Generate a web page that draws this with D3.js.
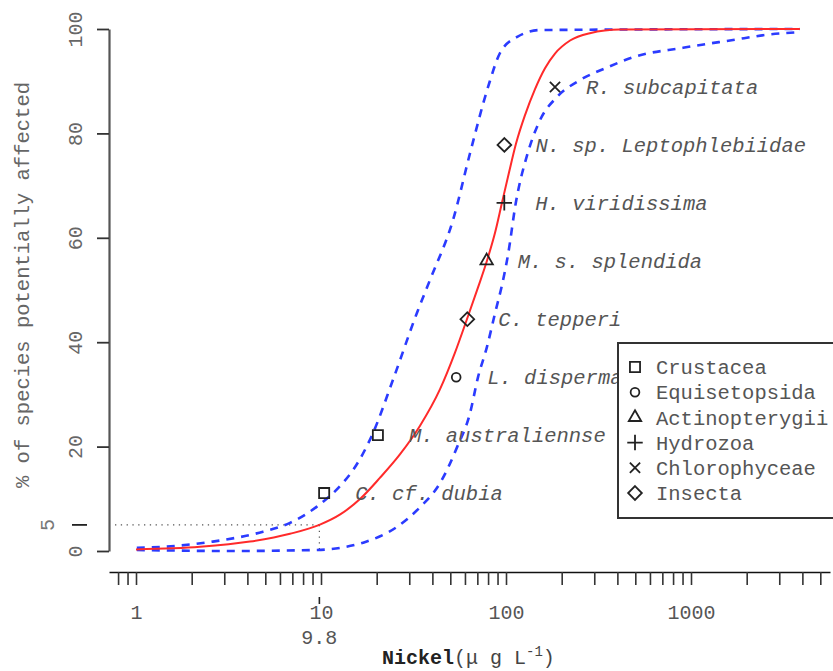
<!DOCTYPE html>
<html>
<head>
<meta charset="utf-8">
<script src="https://cdn.jsdelivr.net/npm/d3@7"></script>
<style>
  body { margin: 0; background: #fff; }
  svg { font-family: "Liberation Mono", "DejaVu Sans Mono", monospace; }
</style>
</head>
<body>
<div id="chart"></div>
<script>
// species sensitivity data
const species = ["C. cf. dubia", "M. australiennse", "L. disperma", "C. tepperi",
  "M. s. splendida", "H. viridissima", "N. sp. Leptophlebiidae", "R. subcapitata"];
const groups = ["Crustacea", "Crustacea", "Equisetopsida", "Insecta",
  "Actinopterygii", "Hydrozoa", "Insecta", "Chlorophyceae"];
const conc = [10.4, 20.3, 53.8, 61.8, 78.6, 97.9, 98.0, 184];
const affected = [11.1, 22.2, 33.3, 44.4, 55.6, 66.7, 77.8, 88.9];

// legend order
const legendGroups = ["Crustacea", "Equisetopsida", "Actinopterygii", "Hydrozoa", "Chlorophyceae", "Insecta"];

// fitted curve
const fitX = [1.0, 2.22, 4.13, 6.8, 9.8, 12.7, 16.3, 20.8, 26.7, 34.3, 44.0, 53.0, 61.5, 70.6, 78.9, 87.3, 95.1, 103.8, 113.2, 126.7, 143.5, 162.5, 184, 222, 284, 413, 3880];
const fitY = [0.3, 0.8, 1.8, 3.3, 5.0, 7.0, 10.0, 14.0, 18.5, 24.0, 31.0, 38.0, 44.4, 50.5, 55.6, 61.0, 66.7, 72.5, 78.0, 83.5, 88.5, 92.5, 95.3, 97.8, 99.2, 99.9, 100];

// confidence bands
const upperX = [1.01, 1.4, 2.6, 4.86, 6.8, 9.5, 13.1, 14.9, 19.1, 24.5, 33, 38.8, 51.7, 63.9, 80, 92.8, 115, 153, 3880];
const upperY = [0.6, 0.8, 1.8, 3.7, 5.4, 8.5, 13.0, 15.5, 22.6, 32.8, 45.6, 51.9, 63.4, 76.2, 88.9, 95.4, 98.5, 99.8, 100];
const lowerX = [1.01, 3.2, 9.5, 12.7, 16.9, 25.7, 34.3, 44, 54.4, 63.9, 70.6, 78.9, 87.3, 95.2, 102.5, 113, 131, 153, 189, 251, 356, 486, 906, 1687, 2575, 3880];
const lowerY = [0.2, 0.0, 0.2, 0.6, 1.6, 4.6, 8.4, 13.0, 19.9, 26.4, 33.3, 39.1, 45.6, 51.0, 56.7, 66.7, 76.2, 82.6, 87.0, 90.2, 92.7, 94.6, 96.4, 97.9, 98.9, 99.4];

const hc5 = 9.8;
const hcLevel = 5;
const yTicks = [0, 20, 40, 60, 80, 100];
const xLabels = [1, 10, 100, 1000];

const width = 833, height = 671;

const svg = d3.select("#chart").append("svg")
  .attr("width", width)
  .attr("height", height);

// scales
const x = d3.scaleLog().domain([1, 1000]).range([136, 691]);
const y = d3.scaleLinear().domain([0, 100]).range([551, 29]);

// x axis (extends a bit past the data)
const xAxisScale = x.copy().domain([x.invert(109), x.invert(830)]).range([109, 830]);
const minorTicks = [];
[0.1, 1, 10, 100, 1000].forEach(dec => {
  for (let k = 1; k <= 9; k++) {
    const v = dec * k;
    if (v >= 0.8 && v <= 5000) minorTicks.push(v);
  }
});

const gx = svg.append("g")
  .attr("transform", "translate(0,572)")
  .call(d3.axisBottom(xAxisScale)
    .tickValues(minorTicks)
    .tickSize(13)
    .tickSizeOuter(0)
    .tickFormat(d => xLabels.some(v => Math.abs(v - d) < 1e-9) ? d3.format("d")(d) : ""));
gx.select(".domain").attr("stroke", "#111").attr("stroke-width", 1.6);
gx.selectAll(".tick line").attr("stroke", "#333").attr("stroke-width", 1.6);
gx.selectAll(".tick text")
  .attr("y", 40).attr("dy", "0.35em")
  .attr("font-size", 20).attr("fill", "#555")
  .attr("font-family", "Liberation Mono");

// y axis
const gy = svg.append("g")
  .attr("transform", "translate(109,0)")
  .call(d3.axisLeft(y).tickValues(yTicks).tickSize(12).tickSizeOuter(0));
gy.select(".domain").attr("stroke", "#555").attr("stroke-width", 2.2);
gy.selectAll(".tick line").attr("stroke", "#333").attr("stroke-width", 1.8);
gy.selectAll(".tick text")
  .attr("x", 0).attr("y", -34).attr("dy", "0.35em")
  .attr("transform", "rotate(-90)")
  .attr("text-anchor", "middle")
  .attr("font-size", 20).attr("fill", "#666")
  .attr("font-family", "Liberation Mono");

// HC5 marker on y
svg.append("line")
  .attr("x1", 72).attr("x2", 87)
  .attr("y1", y(hcLevel)).attr("y2", y(hcLevel))
  .attr("stroke", "#222").attr("stroke-width", 1.8);
svg.append("text")
  .attr("transform", `translate(47,${y(hcLevel)}) rotate(-90)`)
  .attr("text-anchor", "middle").attr("dy", "0.35em")
  .attr("font-size", 20).attr("fill", "#777")
  .text(hcLevel);

// HC5 dotted guides
svg.append("line")
  .attr("x1", 115).attr("x2", x(hc5))
  .attr("y1", y(hcLevel)).attr("y2", y(hcLevel))
  .attr("stroke", "#555").attr("stroke-width", 1.2)
  .attr("stroke-dasharray", "1.3,4.5");
svg.append("line")
  .attr("x1", x(hc5)).attr("x2", x(hc5))
  .attr("y1", y(hcLevel)).attr("y2", y(0))
  .attr("stroke", "#555").attr("stroke-width", 1.2)
  .attr("stroke-dasharray", "1.3,4.5");

// HC5 tick on x
svg.append("line")
  .attr("x1", x(hc5)).attr("x2", x(hc5))
  .attr("y1", 597).attr("y2", 604)
  .attr("stroke", "#222").attr("stroke-width", 1.6);
svg.append("text")
  .attr("x", x(hc5)).attr("y", 637).attr("dy", "0.35em")
  .attr("text-anchor", "middle")
  .attr("font-size", 20).attr("fill", "#555")
  .text(hc5);

// curves
const line = d3.line()
  .x(d => x(d[0]))
  .y(d => y(d[1]))
  .curve(d3.curveMonotoneX);

svg.append("path")
  .datum(d3.zip(upperX, upperY))
  .attr("d", line)
  .attr("fill", "none").attr("stroke", "#2b3bff")
  .attr("stroke-width", 2.6).attr("stroke-dasharray", "8,7");
svg.append("path")
  .datum(d3.zip(lowerX, lowerY))
  .attr("d", line)
  .attr("fill", "none").attr("stroke", "#2b3bff")
  .attr("stroke-width", 2.6).attr("stroke-dasharray", "8,7");
svg.append("path")
  .datum(d3.zip(fitX, fitY))
  .attr("d", line)
  .attr("fill", "none").attr("stroke", "#ff2a2a")
  .attr("stroke-width", 2);

// symbols per group
const shape = {
  "Crustacea": d3.symbol(d3.symbolSquare2, 130),
  "Equisetopsida": d3.symbol(d3.symbolCircle, 60),
  "Actinopterygii": d3.symbol(d3.symbolTriangle2, 110),
  "Hydrozoa": d3.symbol(d3.symbolPlus, 80),
  "Chlorophyceae": d3.symbol(d3.symbolX, 70),
  "Insecta": d3.symbol(d3.symbolDiamond2, 120)
};

const pts = species.map((s, i) => ({ name: s, group: groups[i], x: conc[i], y: affected[i] }));

svg.selectAll("path.pt")
  .data(pts)
  .enter()
  .append("path")
  .attr("class", "pt")
  .attr("transform", d => `translate(${x(d.x)},${y(d.y)})`)
  .attr("d", d => shape[d.group]())
  .attr("fill", "none").attr("stroke", "#222").attr("stroke-width", 1.8);

svg.selectAll("text.sp")
  .data(pts)
  .enter()
  .append("text")
  .attr("class", "sp")
  .attr("x", d => x(d.x) + 31)
  .attr("y", d => y(d.y))
  .attr("dy", "0.35em")
  .attr("font-size", 20.5)
  .attr("font-style", "italic")
  .attr("fill", "#555")
  .text(d => d.name);

// legend
const lg = svg.append("g");
lg.append("rect")
  .attr("x", 618).attr("y", 343)
  .attr("width", 240).attr("height", 175)
  .attr("fill", "#fff").attr("stroke", "#333").attr("stroke-width", 2);
legendGroups.forEach((g, i) => {
  const yy = 367 + i * 25.2;
  lg.append("path")
    .attr("transform", `translate(635,${yy})`)
    .attr("d", shape[g]())
    .attr("fill", "none").attr("stroke", "#222").attr("stroke-width", 1.8);
  lg.append("text")
    .attr("x", 656).attr("y", yy).attr("dy", "0.35em")
    .attr("font-size", 20.5).attr("fill", "#555")
    .text(g);
});

// axis titles
svg.append("text")
  .attr("transform", "translate(22,285) rotate(-90)")
  .attr("text-anchor", "middle").attr("dy", "0.35em")
  .attr("font-size", 20.5).attr("fill", "#666")
  .text("% of species potentially affected");

const xt = svg.append("text")
  .attr("x", 382).attr("y", 664)
  .attr("font-size", 20).attr("fill", "#222");
xt.append("tspan").attr("font-weight", "bold").text("Nickel");
xt.append("tspan").attr("fill", "#444").text("(\u03bc g L");
xt.append("tspan").attr("fill", "#444").attr("font-size", 14).attr("dy", -8).text("-1");
xt.append("tspan").attr("fill", "#444").attr("dy", 8).text(")");
</script>
</body>
</html>
